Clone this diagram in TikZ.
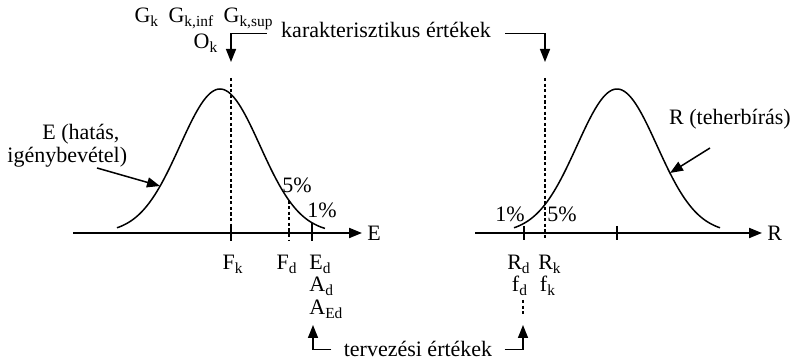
\documentclass[tikz,border=0pt]{standalone}
\usepackage{fontspec}
\setmainfont{Liberation Serif}
\usetikzlibrary{arrows.meta, positioning}
\tikzset{
  axisline/.style={line width=1pt, -{Triangle[length=6.5pt, width=5pt]}},
  curve/.style={line width=0.75pt},
  tickmark/.style={line width=0.7pt},
  guide/.style={line width=0.6pt, dash pattern=on 1.6pt off 1.2pt},
  pointer/.style={line width=0.75pt, -{Triangle[length=6.5pt, width=5pt]}},
  lbl/.style={font=\fontsize{11}{11}\selectfont, inner sep=1pt}
}
\begin{document}
\begin{tikzpicture}[x=0.5pt, y=-0.5pt]
  \useasboundingbox (0,0) rectangle (798,362);

  % axes
  \coordinate (E0) at (73,233);
  \coordinate (E1) at (362,233);
  \coordinate (R0) at (475,233);
  \coordinate (R1) at (762,233);
  \draw[axisline] (E0) -- (E1);
  \draw[axisline] (R0) -- (R1);
  \node[lbl, right=1.5pt of E1] (Eax) {E};
  \node[lbl, right=1.5pt of R1] (Rax) {R};

  % density curves
  \draw[curve] plot[domain=117:325, samples=100]
    (\x, {233-144*exp(-0.5*((\x-220)/40)^2)});
  \draw[curve] plot[domain=514:720, samples=100]
    (\x, {233-144*exp(-0.5*((\x-617)/40)^2)});

  % marks on the E axis
  \coordinate (Fk) at (231,233);
  \coordinate (Fd) at (289,233);
  \coordinate (Ed) at (312,233);
  \coordinate (Ftop) at (231,78);
  \coordinate (F5) at (289,200.5);
  \coordinate (F1) at (312,222.8);
  \draw[guide] (Ftop) -- (Fk);
  \draw[tickmark] ([yshift=3.5pt]Fk) -- ([yshift=-4pt]Fk);
  \draw[guide] (F5) -- ([yshift=-4pt]Fd);
  \draw[tickmark] (F1) -- ([yshift=-4pt]Ed);

  % marks on the R axis
  \coordinate (Rd) at (524,233);
  \coordinate (Rk) at (545,233);
  \coordinate (Rm) at (617,233);
  \coordinate (Rtop) at (545,78);
  \draw[tickmark] ([yshift=3.5pt]Rd) -- ([yshift=-3.5pt]Rd);
  \draw[guide] (Rtop) -- ([yshift=-3.5pt]Rk);
  \draw[tickmark] ([yshift=3.5pt]Rm) -- ([yshift=-3.5pt]Rm);

  % percentages
  \node[lbl, anchor=base] (p5E) at (297,193) {5\%};
  \node[lbl, anchor=base] (p1E) at (322,218) {1\%};
  \node[lbl, anchor=base] (p1R) at (510,222) {1\%};
  \node[lbl, anchor=base] (p5R) at (562,222) {5\%};

  % curve labels
  \node[lbl, anchor=base west] (Ehat1) at (40,140) {E (hatás,};
  \node[lbl, anchor=base west] (Ehat2) at (5,163) {igénybevétel)};
  \node[lbl, anchor=base] (Rteh) at (730,125) {R (teherbírás)};
  \coordinate (Etail) at (97,168);
  \coordinate (Ehit) at (160,186);
  \coordinate (Rtail) at (710,148);
  \coordinate (Rhit) at (670,173);
  \draw[pointer] (Etail) -- (Ehit);
  \draw[pointer] (Rtail) -- (Rhit);

  % characteristic values
  \node[lbl, anchor=base] (Gk) at (204,23)
    {G\textsubscript{k}\hspace{2pt} G\textsubscript{k,inf}\hspace{2pt} G\textsubscript{k,sup}};
  \node[lbl, anchor=base] (Ok) at (206,49) {O\textsubscript{k}};
  \node[lbl, anchor=base, inner xsep=7pt] (kar) at (386,38) {karakterisztikus értékek};
  \coordinate (Fup) at (231,62);
  \coordinate (Rup) at (545,62);
  \draw[pointer] ([yshift=-1.5pt]kar.west) -| (Fup);
  \draw[pointer] ([yshift=-1.5pt]kar.east) -| (Rup);

  % labels under the axes
  \node[lbl, anchor=base] (FkL) at (233,270) {F\textsubscript{k}};
  \node[lbl, anchor=base] (FdL) at (287,270) {F\textsubscript{d}};
  \node[lbl, anchor=base west] (EdL) at (307,270) {E\textsubscript{d}};
  \node[lbl, anchor=base west] (AdL) at (307,292) {A\textsubscript{d}};
  \node[lbl, anchor=base west] (AEdL) at (307,315) {A\textsubscript{Ed}};
  \node[lbl, anchor=base] (RdL) at (519,270) {R\textsubscript{d}};
  \node[lbl, anchor=base] (RkL) at (550,270) {R\textsubscript{k}};
  \node[lbl, anchor=base] (fdL) at (520,292) {f\textsubscript{d}};
  \node[lbl, anchor=base] (fkL) at (548,292) {f\textsubscript{k}};

  % design values
  \node[lbl, anchor=base, inner xsep=6pt] (terv) at (418,357) {tervezési értékek};
  \coordinate (Edup) at (313,325);
  \coordinate (Rdup) at (523,325);
  \coordinate (Rdgap) at (523,300);
  \coordinate (Rdend) at (523,314);
  \draw[guide] (Rdgap) -- (Rdend);
  \draw[pointer] (terv.west) -| (Edup);
  \draw[pointer] (terv.east) -| (Rdup);
\end{tikzpicture}
\end{document}
